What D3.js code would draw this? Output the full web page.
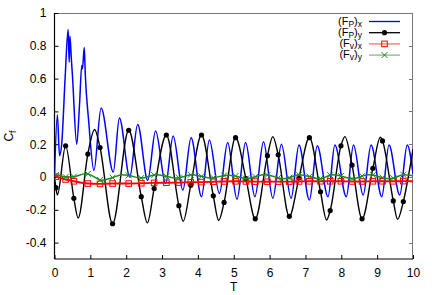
<!DOCTYPE html>
<meta charset="utf-8">
<head>
    <title>Force coefficients</title>
</head>
<script src="https://d3js.org/d3.v7.min.js"></script>

<style>
    body { margin: 0; background: white; }
    text { font-family: "Liberation Sans", Arial, sans-serif; font-size: 12px; fill: black; }
    .frame-dark { stroke: black; stroke-width: 1px; }
    .frame-light { stroke: #777; stroke-width: 1px; }
</style>
<div id="viz"></div>
<script>

// (F_P)_x  - pressure force, x direction
var fpx = [
    [0,0.0],[0.08,0.38],[0.14,0.13],[0.2,0.2],[0.3,0.62],[0.38,0.9],[0.41,0.7],[0.43,0.86],
    [0.47,0.72],[0.5,0.62],[0.62,0.2],[0.7,0.45],[0.76,0.68],[0.78,0.66],[0.83,0.79],[0.86,0.62],
    [0.95,0.35],[1.1,0.04],[1.3,0.42],[1.64,0.03],[1.81,0.36],[2.1,0.0],[2.32,0.32],[2.6,-0.02],
    [2.82,0.28],[3.1,-0.04],[3.31,0.25],[3.58,-0.08],[3.81,0.24],[4.1,-0.12],[4.32,0.225],[4.6,-0.10],
    [4.83,0.21],[5.09,-0.135],[5.33,0.21],[5.59,-0.12],[5.83,0.215],[6.09,-0.13],[6.33,0.2],[6.6,-0.13],
    [6.82,0.195],[7.11,-0.14],[7.33,0.19],[7.63,-0.12],[7.82,0.195],[8.14,-0.12],[8.34,0.195],[8.61,-0.11],
    [8.83,0.195],[9.13,-0.12],[9.33,0.195],[9.63,-0.11],[9.84,0.195],[10,0.02]
];

// (F_P)_y
var fpy = [
    [0,0.0],[0.04,-0.065],[0.08,-0.11],[0.31,0.19],[0.54,-0.13],[0.66,-0.25],[0.93,0.14],[1.12,0.29],
    [1.27,0.18],[1.62,-0.285],[2.07,0.285],[2.42,-0.12],[2.59,-0.28],[2.78,-0.07],[3.12,0.256],[3.47,-0.175],
    [3.59,-0.27],[3.8,-0.05],[4.1,0.256],[4.43,-0.115],[4.58,-0.265],[4.73,-0.155],[5.05,0.24],[5.34,-0.01],
    [5.6,-0.255],[5.94,0.13],[6.09,0.246],[6.24,0.135],[6.55,-0.24],[6.82,-0.005],[7.11,0.24],[7.42,-0.09],
    [7.59,-0.262],[7.69,-0.205],[7.99,0.19],[8.1,0.246],[8.3,0.073],[8.58,-0.255],[8.88,0.053],[9.09,0.242],
    [9.15,0.22],[9.45,-0.146],[9.57,-0.258],[9.73,-0.15],[10,0.17]
];

// (F_v)_x
var fvx = [
    [0,0.005],[0.04,0.002],[0.31,-0.015],[0.54,-0.026],[0.93,-0.04],[1.27,-0.042],[1.62,-0.04],[2.07,-0.04],
    [2.42,-0.038],[2.78,-0.036],[3.12,-0.035],[3.47,-0.034],[3.8,-0.032],[4.1,-0.031],[4.43,-0.029],[4.73,-0.027],
    [5.05,-0.026],[5.34,-0.027],[5.6,-0.028],[5.94,-0.029],[6.24,-0.028],[6.55,-0.028],[6.82,-0.027],[7.11,-0.026],
    [7.42,-0.026],[7.69,-0.026],[7.99,-0.026],[8.3,-0.027],[8.58,-0.027],[8.88,-0.026],[9.15,-0.026],[9.45,-0.026],
    [9.73,-0.025],[10,-0.026]
];

// (F_v)_y
var fvy = [
    [0,0.01],[0.04,0.012],[0.31,0.0],[0.54,0.002],[0.86,0.02],[0.93,0.019],[1.27,-0.018],[1.32,-0.02],
    [1.62,-0.004],[1.88,0.014],[2.07,0.01],[2.39,-0.006],[2.42,-0.006],[2.78,0.012],[2.86,0.014],[3.12,0.004],
    [3.37,-0.006],[3.47,-0.004],[3.8,0.013],[3.84,0.014],[4.1,0.004],[4.35,-0.006],[4.43,-0.005],[4.73,0.009],
    [4.83,0.011],[5.05,0.006],[5.34,-0.01],[5.6,0.002],[5.83,0.014],[5.94,0.012],[6.24,-0.005],[6.36,-0.01],
    [6.55,-0.004],[6.8,0.014],[6.82,0.014],[7.11,0.003],[7.36,-0.01],[7.42,-0.01],[7.69,0.011],[7.78,0.014],
    [7.99,0.006],[8.3,-0.01],[8.33,-0.01],[8.58,0.005],[8.75,0.014],[8.88,0.012],[9.15,-0.004],[9.31,-0.01],
    [9.45,-0.007],[9.73,0.014],[10,0.008]
];

// times where gnuplot put a point symbol
var markT = [0.04,0.31,0.54,0.93,1.27,1.62,2.07,2.42,2.78,3.12,3.47,3.8,4.1,4.43,4.73,5.05,5.34,5.6,
    5.94,6.24,6.55,6.82,7.11,7.42,7.69,7.99,8.3,8.58,8.88,9.15,9.45,9.73];

var xTicks = [0,1,2,3,4,5,6,7,8,9,10];
var yTicks = [-0.4,-0.2,0,0.2,0.4,0.6,0.8,1];

var series = [
    {name: ['P','x'], data: fpx, color: '#0000ff', width: 1.5, mark: null},
    {name: ['P','y'], data: fpy, color: '#000000', width: 1.4, mark: 'dot'},
    {name: ['v','x'], data: fvx, color: '#ff0000', width: 1.9, mark: 'square'},
    {name: ['v','y'], data: fvy, color: '#1a8a1a', width: 1.5, mark: 'cross'}
];

var width = 432, height = 295;
var svg = d3.select('#viz').append('svg')
    .attr('width', width)
    .attr('height', height);

var x = d3.scaleLinear().domain([0,10]).range([54.5,413]);
var y = d3.scaleLinear().domain([-0.5,1]).range([259,13]);

svg.append('defs').append('clipPath').attr('id','plotclip')
    .append('rect')
    .attr('x', x(0)).attr('y', y(1))
    .attr('width', x(10)-x(0)).attr('height', y(-0.5)-y(1));

// frame: top and right lighter
svg.append('line').attr('class','frame-light')
    .attr('x1', x(0)).attr('x2', x(10)).attr('y1', y(1)+0.5).attr('y2', y(1)+0.5);
svg.append('line').attr('class','frame-light')
    .attr('x1', x(10)-0.5).attr('x2', x(10)-0.5).attr('y1', y(1)).attr('y2', y(-0.5));

// right side ticks (inward, grey)
svg.append('g').selectAll('line').data(yTicks).enter().append('line')
    .attr('class','frame-light')
    .attr('x1', x(10)-4).attr('x2', x(10))
    .attr('y1', function(d){ return Math.round(y(d))+0.5; })
    .attr('y2', function(d){ return Math.round(y(d))+0.5; });

var fmt = function(d){ return d3.format('')(d).replace('\u2212','-'); };

var yAxis = svg.append('g')
    .attr('transform','translate(' + x(0) + ',0)')
    .call(d3.axisLeft(y).tickValues(yTicks).tickSize(-4).tickPadding(8).tickFormat(fmt));
var xAxis = svg.append('g')
    .attr('transform','translate(0,' + y(-0.5) + ')')
    .call(d3.axisBottom(x).tickValues(xTicks).tickSize(-4).tickPadding(9).tickFormat(fmt));

[yAxis, xAxis].forEach(function(a){
    a.select('.domain').attr('stroke','black').attr('stroke-width',1.2);
    a.selectAll('.tick line').attr('stroke','black');
    a.selectAll('.tick text')
        .style('font-family','"Liberation Sans", Arial, sans-serif')
        .style('font-size','12px')
        .attr('fill','black');
});
xAxis.select('.domain').attr('d','M' + x(0) + ',0H' + x(10));
yAxis.select('.domain').attr('d','M0,' + y(-0.5) + 'V' + y(1));

// axis titles
svg.append('text')
    .attr('x', (x(0)+x(10))/2).attr('y', 291)
    .style('text-anchor','middle')
    .text('T');

var ylab = svg.append('text')
    .attr('transform','translate(13,' + 136 + ')rotate(-90)')
    .style('text-anchor','middle');
ylab.append('tspan').text('C');
ylab.append('tspan').attr('dy', 3).style('font-size','9px').text('f');

// curves
var plot = svg.append('g').attr('clip-path','url(#plotclip)');
var line = d3.line()
    .x(function(d){ return x(d[0]); })
    .y(function(d){ return y(d[1]); })
    .curve(d3.curveMonotoneX);

function drawMark(g, type, color, cx, cy){
    if(type == 'dot'){
        g.append('circle').attr('cx',cx).attr('cy',cy).attr('r',2.6).attr('fill',color);
    } else if(type == 'square'){
        g.append('rect').attr('x',cx-2.8).attr('y',cy-2.8).attr('width',5.6).attr('height',5.6)
            .attr('fill','none').attr('stroke',color).attr('stroke-width',1);
    } else if(type == 'cross'){
        g.append('path').attr('d','M'+(cx-3)+','+(cy-3)+'L'+(cx+3)+','+(cy+3)+'M'+(cx-3)+','+(cy+3)+'L'+(cx+3)+','+(cy-3))
            .attr('stroke',color).attr('stroke-width',1);
    }
}

series.forEach(function(s){
    plot.append('path')
        .datum(s.data)
        .attr('fill','none')
        .attr('stroke', s.color)
        .attr('stroke-width', s.width)
        .attr('stroke-linejoin','round')
        .attr('d', line);
    if(s.mark){
        var g = plot.append('g');
        s.data.filter(function(d){ return markT.indexOf(d[0]) >= 0; }).forEach(function(d){
            drawMark(g, s.mark, s.color, x(d[0]), y(d[1]));
        });
    }
});

// legend
var legend = svg.append('g');
series.forEach(function(s, i){
    var ly = 21.5 + i*11.2;
    var t = legend.append('text')
        .attr('x', 362).attr('y', ly + 3)
        .style('text-anchor','end')
        .style('font-size','11px');
    t.append('tspan').text('(F');
    t.append('tspan').attr('dy',2).style('font-size','8.5px').text(s.name[0]);
    t.append('tspan').attr('dy',-2).text(')');
    t.append('tspan').attr('dy',2).style('font-size','8.5px').text(s.name[1]);
    var op = (s.mark == 'square' || s.mark == 'cross') ? 0.55 : 1;
    legend.append('line')
        .attr('x1',369).attr('x2',400).attr('y1',ly).attr('y2',ly)
        .attr('stroke', s.color).attr('stroke-width', 1.3).attr('opacity', op);
    if(s.mark) drawMark(legend, s.mark, s.color, 384.5, ly);
});

</script>
